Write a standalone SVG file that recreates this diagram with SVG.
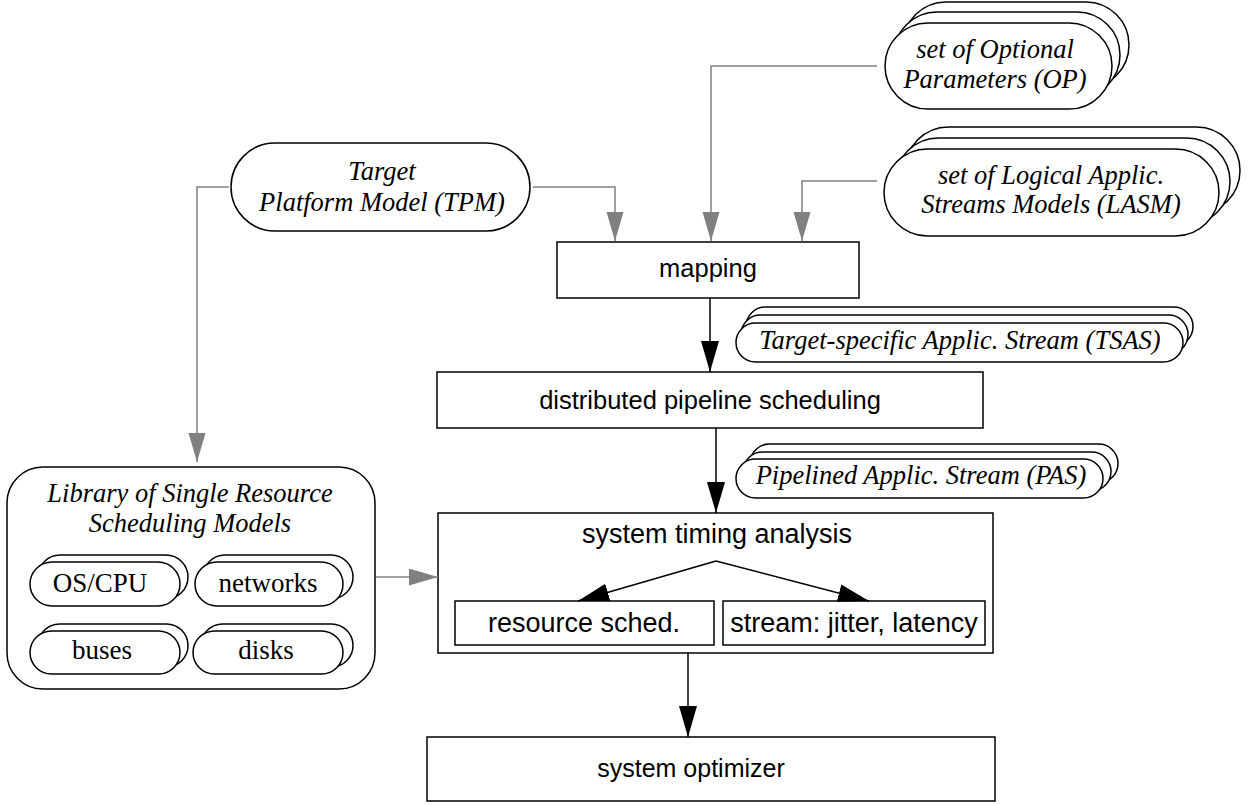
<svg xmlns="http://www.w3.org/2000/svg" width="1248" height="805" viewBox="0 0 1248 805">
  <style>
    .box { fill: #ffffff; stroke: #000000; stroke-width: 1.5; }
    .pill { fill: #ffffff; stroke: #000000; stroke-width: 1.5; }
    .sans { font-family: "Liberation Sans", Arial, sans-serif; font-size: 25.5px; fill: #000000; text-anchor: middle; }
    .sans.sub { font-size: 27px; }
    .sans.small { font-size: 25px; }
    .serif { font-family: "Liberation Serif", "Times New Roman", serif; font-size: 27px; fill: #000000; text-anchor: middle; }
    .serif.it { font-style: italic; font-size: 26.5px; }
    .gray { fill: none; stroke: #808080; stroke-width: 1.5; }
    .blk { fill: none; stroke: #000000; stroke-width: 1.5; }
  </style>
  <defs>
    <marker id="arrowGray" markerUnits="userSpaceOnUse" markerWidth="30" markerHeight="18" refX="29" refY="8.5" orient="auto">
      <path d="M0,0 L29,8.5 L0,17 Z" fill="#808080"/>
    </marker>
    <marker id="arrowBlack" markerUnits="userSpaceOnUse" markerWidth="32" markerHeight="20" refX="31" refY="9" orient="auto">
      <path d="M0,0 L31,9 L0,18 Z" fill="#000000"/>
    </marker>
  </defs>

  <rect width="1248" height="805" fill="#ffffff"/>

  <!-- set of Optional Parameters -->
  <g id="op">
    <rect class="pill" x="903" y="2" width="226" height="86" rx="43"/>
    <rect class="pill" x="894" y="12" width="226" height="86" rx="43"/>
    <rect class="pill" x="885" y="23" width="227" height="86" rx="43"/>
    <text class="serif it" x="995" y="58">set of Optional</text>
    <text class="serif it" x="995" y="88">Parameters (OP)</text>
  </g>

  <!-- set of Logical Applic. Streams Models -->
  <g id="lasm">
    <rect class="pill" x="905" y="127" width="335" height="87" rx="43.5"/>
    <rect class="pill" x="895" y="138" width="335" height="87" rx="43.5"/>
    <rect class="pill" x="884" y="149" width="335" height="87" rx="43.5"/>
    <text class="serif it" x="1051" y="184">set of Logical Applic.</text>
    <text class="serif it" x="1051" y="213">Streams Models (LASM)</text>
  </g>

  <!-- Target Platform Model -->
  <g id="tpm">
    <rect class="pill" x="231" y="143" width="299" height="88" rx="44"/>
    <text class="serif it" x="382" y="180">Target</text>
    <text class="serif it" x="382" y="211">Platform Model (TPM)</text>
  </g>

  <!-- mapping -->
  <g id="mapping">
    <rect class="box" x="557" y="242" width="302" height="56"/>
    <text class="sans" x="708" y="277">mapping</text>
  </g>

  <!-- Target-specific Applic. Stream -->
  <g id="tsas">
    <rect class="pill" x="746" y="307" width="447" height="39" rx="19.5"/>
    <rect class="pill" x="741" y="315" width="447" height="39" rx="19.5"/>
    <rect class="pill" x="736" y="323" width="447" height="39" rx="19.5"/>
    <text class="serif it" x="960" y="349">Target-specific Applic. Stream (TSAS)</text>
  </g>

  <!-- distributed pipeline scheduling -->
  <g id="dps">
    <rect class="box" x="437" y="372" width="546" height="56"/>
    <text class="sans" x="710" y="409">distributed pipeline scheduling</text>
  </g>

  <!-- Pipelined Applic. Stream -->
  <g id="pas">
    <rect class="pill" x="750" y="444" width="368" height="39" rx="19.5"/>
    <rect class="pill" x="743" y="452" width="368" height="39" rx="19.5"/>
    <rect class="pill" x="736" y="459" width="367" height="39" rx="19.5"/>
    <text class="serif it" x="921" y="484">Pipelined Applic. Stream (PAS)</text>
  </g>

  <!-- Library of Single Resource Scheduling Models -->
  <g id="library">
    <rect class="box" x="7" y="467" width="368" height="222" rx="36"/>
    <text class="serif it" x="190" y="502">Library of Single Resource</text>
    <text class="serif it" x="190" y="532">Scheduling Models</text>
    <g id="oscpu">
      <rect class="pill" x="38" y="555" width="150" height="44" rx="22"/>
      <rect class="pill" x="30" y="562" width="150" height="44" rx="22"/>
      <text class="serif" x="100" y="592">OS/CPU</text>
    </g>
    <g id="networks">
      <rect class="pill" x="203" y="555" width="150" height="44" rx="22"/>
      <rect class="pill" x="195" y="562" width="148" height="44" rx="22"/>
      <text class="serif" x="268" y="592">networks</text>
    </g>
    <g id="buses">
      <rect class="pill" x="38" y="624" width="150" height="43" rx="21.5"/>
      <rect class="pill" x="30" y="631" width="150" height="43" rx="21.5"/>
      <text class="serif" x="102" y="659">buses</text>
    </g>
    <g id="disks">
      <rect class="pill" x="201" y="624" width="152" height="43" rx="21.5"/>
      <rect class="pill" x="193" y="631" width="150" height="43" rx="21.5"/>
      <text class="serif" x="266" y="659">disks</text>
    </g>
  </g>

  <!-- system timing analysis -->
  <g id="sta">
    <rect class="box" x="438" y="513" width="555" height="140"/>
    <text class="sans sub" x="717" y="543">system timing analysis</text>
  </g>
  <g id="resource-sched">
    <rect class="box" x="455" y="601" width="259" height="44"/>
    <text class="sans sub" x="584" y="632">resource sched.</text>
  </g>
  <g id="stream-jitter">
    <rect class="box" x="723" y="601" width="262" height="44"/>
    <text class="sans sub" x="854" y="632">stream: jitter, latency</text>
  </g>

  <!-- system optimizer -->
  <g id="optimizer">
    <rect class="box" x="427" y="737" width="568" height="64"/>
    <text class="sans small" x="691" y="777">system optimizer</text>
  </g>

  <!-- connectors -->
  <g id="connectors">
    <polyline class="gray" points="229,187 197,187 197,462" marker-end="url(#arrowGray)"/>
    <polyline class="gray" points="533,187 615,187 615,241" marker-end="url(#arrowGray)"/>
    <polyline class="gray" points="877,66 711,66 711,241" marker-end="url(#arrowGray)"/>
    <polyline class="gray" points="877,181 802,181 802,241" marker-end="url(#arrowGray)"/>
    <line class="gray" x1="376" y1="577" x2="438" y2="577" marker-end="url(#arrowGray)"/>
    <line class="blk" x1="710" y1="298" x2="710" y2="372" marker-end="url(#arrowBlack)"/>
    <line class="blk" x1="716" y1="428" x2="716" y2="513" marker-end="url(#arrowBlack)"/>
    <line class="blk" x1="716" y1="561" x2="578" y2="601" marker-end="url(#arrowBlack)"/>
    <line class="blk" x1="716" y1="561" x2="869" y2="601" marker-end="url(#arrowBlack)"/>
    <line class="blk" x1="688" y1="653" x2="688" y2="737" marker-end="url(#arrowBlack)"/>
  </g>
</svg>
